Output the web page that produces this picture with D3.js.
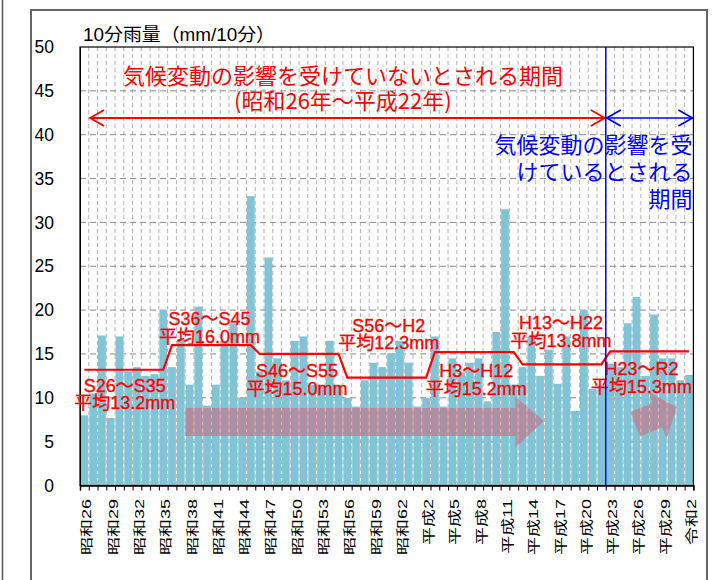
<!DOCTYPE html>
<html>
<head>
<meta charset="utf-8">
<script src="https://cdn.jsdelivr.net/npm/d3@7"></script>
<style>
  body { margin: 0; background: #fff; }
  svg { display: block; }
</style>
</head>
<body>
<script>
// one bar per year, 昭和26 (1951) .. 令和2 (2020)
const categories = [
  "昭和26","昭和27","昭和28","昭和29","昭和30","昭和31","昭和32","昭和33","昭和34","昭和35",
  "昭和36","昭和37","昭和38","昭和39","昭和40","昭和41","昭和42","昭和43","昭和44","昭和45",
  "昭和46","昭和47","昭和48","昭和49","昭和50","昭和51","昭和52","昭和53","昭和54","昭和55",
  "昭和56","昭和57","昭和58","昭和59","昭和60","昭和61","昭和62","昭和63","平成元","平成2",
  "平成3","平成4","平成5","平成6","平成7","平成8","平成9","平成10","平成11","平成12",
  "平成13","平成14","平成15","平成16","平成17","平成18","平成19","平成20","平成21","平成22",
  "平成23","平成24","平成25","平成26","平成27","平成28","平成29","平成30","令和元","令和2"
];
const rainfall = [
  8.0, 10.5, 17.1, 7.7, 17.0, 13.0, 13.5, 12.5, 12.7, 20.0,
  13.5, 16.7, 11.5, 20.4, 9.1, 11.5, 16.5, 18.5, 10.0, 33.0,
  13.0, 26.0, 14.5, 12.0, 16.5, 17.0, 11.5, 11.5, 16.5, 11.5,
  10.0, 9.0, 12.0, 14.0, 13.5, 15.1, 16.5, 14.0, 9.0, 10.0,
  17.0, 9.0, 14.5, 12.9, 14.0, 14.5, 9.6, 17.5, 31.5, 11.5,
  13.5, 17.0, 12.5, 15.5, 11.6, 17.0, 8.5, 20.0, 11.0, 11.4,
  13.9, 13.5, 18.5, 21.5, 12.5, 19.5, 14.5, 14.5, 12.0, 12.6
];
const tickLabels = [
  "昭和26","昭和29","昭和32","昭和35","昭和38","昭和41","昭和44","昭和47",
  "昭和50","昭和53","昭和56","昭和59","昭和62","平成2","平成5","平成8",
  "平成11","平成14","平成17","平成20","平成23","平成26","平成29","令和2"
];
const yTicks = [0, 5, 10, 15, 20, 25, 30, 35, 40, 45, 50];

// 10-year periods and their means
const periodNames = ["S26～S35", "S36～S45", "S46～S55", "S56～H2", "H3～H12", "H13～H22", "H23～R2"];
const periodAverages = [13.2, 16.0, 15.0, 12.3, 15.2, 13.8, 15.3];
const periodFirst = ["昭和26", "昭和36", "昭和46", "昭和56", "平成3", "平成13", "平成23"];
const periodLast = ["昭和35", "昭和45", "昭和55", "平成2", "平成12", "平成22", "令和2"];

const width = 723, height = 580;
const plotLeft = 80, plotRight = 693.4, plotTop = 47, plotBottom = 485.5;

const svg = d3.select("body").append("svg")
  .attr("width", width)
  .attr("height", height);

svg.append("rect").attr("width", width).attr("height", height).attr("fill", "#fff");

// outer frames
svg.append("line")
  .attr("x1", 2.5).attr("x2", 2.5).attr("y1", 0).attr("y2", height)
  .attr("stroke", "#555").attr("stroke-width", 1.5);
svg.append("rect")
  .attr("x", 31).attr("y", 10).attr("width", 676).attr("height", 620)
  .attr("fill", "none").attr("stroke", "#666").attr("stroke-width", 2);

const x = d3.scaleBand()
  .domain(categories)
  .range([plotLeft, plotRight])
  .paddingInner(0.12)
  .paddingOuter(0.06);

// index scale for tick marks / gridlines on the bar boundaries
const xi = d3.scaleLinear().domain([0, categories.length]).range([plotLeft, plotRight]);

const y = d3.scaleLinear().domain([0, 50]).range([plotBottom, plotTop]);

const cx = d => x(d) + x.bandwidth() / 2;

// gridlines
svg.append("g")
  .selectAll("line")
  .data(d3.range(1, categories.length))
  .join("line")
  .attr("x1", d => xi(d)).attr("x2", d => xi(d))
  .attr("y1", plotTop).attr("y2", plotBottom)
  .attr("stroke", "#b4b4b4").attr("stroke-width", 1)
  .attr("stroke-dasharray", "4,3");

svg.append("g")
  .selectAll("line")
  .data(yTicks.filter(d => d > 0 && d < 50))
  .join("line")
  .attr("x1", plotLeft).attr("x2", plotRight)
  .attr("y1", d => y(d)).attr("y2", d => y(d))
  .attr("stroke", "#8c8c8c").attr("stroke-width", 1)
  .attr("stroke-dasharray", "6,4");

// bars
svg.append("g")
  .selectAll("rect")
  .data(rainfall)
  .join("rect")
  .attr("x", (d, i) => x(categories[i]))
  .attr("y", d => y(d))
  .attr("width", x.bandwidth())
  .attr("height", d => y(0) - y(d))
  .attr("fill", "#80c4d6");

// plot frame
svg.append("rect")
  .attr("x", plotLeft).attr("y", plotTop)
  .attr("width", plotRight - plotLeft).attr("height", plotBottom - plotTop)
  .attr("fill", "none").attr("stroke", "#000").attr("stroke-width", 1.2);

// y axis
const yAxis = svg.append("g")
  .attr("transform", `translate(${plotLeft},0)`)
  .call(d3.axisLeft(y).tickValues(yTicks).tickSize(0).tickPadding(26));
yAxis.select(".domain").attr("stroke", "#000");
yAxis.selectAll("text")
  .attr("font-family", "'Liberation Sans', Arial, sans-serif")
  .attr("font-size", 17.5)
  .attr("fill", "#000");

// x axis: tick marks on the band boundaries
const xAxis = svg.append("g")
  .attr("transform", `translate(0,${plotBottom})`)
  .call(d3.axisBottom(xi).tickValues(d3.range(0, categories.length + 1)).tickSize(5).tickFormat(""));
xAxis.select(".domain").attr("stroke", "#000").attr("stroke-width", 1.5);
xAxis.selectAll(".tick line").attr("stroke", "#000");

// x labels, vertical and narrow like the original
svg.append("g")
  .selectAll("text")
  .data(tickLabels)
  .join("text")
  .attr("transform", d => `translate(${cx(d) + 2.5},499) rotate(-90) scale(1,0.72)`)
  .attr("text-anchor", "end")
  .attr("dominant-baseline", "central")
  .attr("font-family", "'Liberation Sans', 'Noto Sans CJK JP', sans-serif")
  .attr("font-size", 18)
  .attr("fill", "#000")
  .text(d => d);

// title
svg.append("text")
  .attr("x", 83).attr("y", 41)
  .attr("font-family", "'Liberation Sans', 'Noto Sans CJK JP', sans-serif")
  .attr("font-size", 18)
  .attr("textLength", 192)
  .attr("lengthAdjust", "spacingAndGlyphs")
  .attr("fill", "#000")
  .text("10分雨量（mm/10分）");

// pink trend arrows (semi transparent)
const pink = "rgb(225,80,100)";
const bigArrow = [
  [12, 8.85], [49.7, 8.85], [49.7, 10.1], [52.9, 7.35], [49.7, 4.3], [49.7, 5.65], [12, 5.65]
];
svg.append("path")
  .attr("d", d3.line().x(d => xi(d[0])).y(d => y(d[1]))(bigArrow) + "Z")
  .attr("fill", pink).attr("opacity", 0.45);

const smallArrow = [[0, -13], [24, -13], [24, -25], [45, 0], [24, 25], [24, 13], [0, 13]];
svg.append("path")
  .attr("transform", `translate(${xi(63.35)},${y(7.0)}) rotate(-22)`)
  .attr("d", d3.line()(smallArrow) + "Z")
  .attr("fill", pink).attr("opacity", 0.45);

// average step line
const stepPoints = [];
periodAverages.forEach((a, i) => {
  stepPoints.push([cx(periodFirst[i]), y(a)]);
  stepPoints.push([cx(periodLast[i]), y(a)]);
});
svg.append("path")
  .attr("d", d3.line()(stepPoints))
  .attr("fill", "none")
  .attr("stroke", "#ff0000")
  .attr("stroke-width", 2.2);

// period labels, two lines each
const labelOffsets = [16, -26, 17.5, -52, 19, -41, 18];
const labelShift = [1, -2, -2, 2, 2, -1, -8];
const lbl = svg.append("g")
  .attr("font-family", "'Liberation Sans', 'Noto Sans CJK JP', sans-serif")
  .attr("font-size", 18)
  .attr("fill", "#ff0000")
  .attr("stroke", "#ff0000")
  .attr("stroke-width", 0.35)
  .attr("text-anchor", "middle")
  .attr("dominant-baseline", "central");
periodNames.forEach((name, i) => {
  const mx = (cx(periodFirst[i]) + cx(periodLast[i])) / 2 + labelShift[i];
  const ly = y(periodAverages[i]) + labelOffsets[i];
  const t = lbl.append("text").attr("x", mx).attr("y", ly);
  t.append("tspan").attr("x", mx).attr("y", ly).text(name);
  t.append("tspan").attr("x", mx).attr("y", ly + 17.5)
    .text("平均" + periodAverages[i].toFixed(1) + "mm");
});

// period arrows
function openHead(g, tipX, tipY, dir, color) {
  g.append("path")
    .attr("d", d3.line()([[tipX - dir * 14, tipY - 8], [tipX, tipY], [tipX - dir * 14, tipY + 8]]))
    .attr("fill", "none").attr("stroke", color).attr("stroke-width", 1.8);
}
const arrowY = y(41.9);
const split = xi(60);
const ar = svg.append("g");
ar.append("line").attr("x1", xi(1.15)).attr("x2", split).attr("y1", arrowY).attr("y2", arrowY)
  .attr("stroke", "#ff0000").attr("stroke-width", 2);
openHead(ar, xi(1.15), arrowY, -1, "#ff0000");
openHead(ar, split - 1, arrowY, 1, "#ff0000");
ar.append("line").attr("x1", split).attr("x2", plotRight - 1).attr("y1", arrowY).attr("y2", arrowY)
  .attr("stroke", "#0000ff").attr("stroke-width", 1.5);
openHead(ar, split + 1, arrowY, -1, "#0000ff");
openHead(ar, plotRight - 1, arrowY, 1, "#0000ff");

// boundary line H22 | H23
svg.append("line")
  .attr("x1", split).attr("x2", split).attr("y1", plotTop).attr("y2", plotBottom)
  .attr("stroke", "#0000ff").attr("stroke-width", 1.5);

// captions
const cap = svg.append("g")
  .attr("font-family", "'Noto Sans CJK JP', sans-serif")
  .attr("font-size", 22)
  .attr("dominant-baseline", "central");
const red = cap.append("text").attr("text-anchor", "middle").attr("fill", "#ff0000");
red.append("tspan").attr("x", xi(30)).attr("y", 74).text("気候変動の影響を受けていないとされる期間");
red.append("tspan").attr("x", xi(30)).attr("y", 99).text("(昭和26年～平成22年)");
const blue = cap.append("text").attr("text-anchor", "end").attr("fill", "#0000ff");
["気候変動の影響を受", "けているとされる", "期間"].forEach((t, i) => {
  blue.append("tspan").attr("x", plotRight - 1).attr("y", 142.5 + i * 27).text(t);
});
</script>
</body>
</html>
